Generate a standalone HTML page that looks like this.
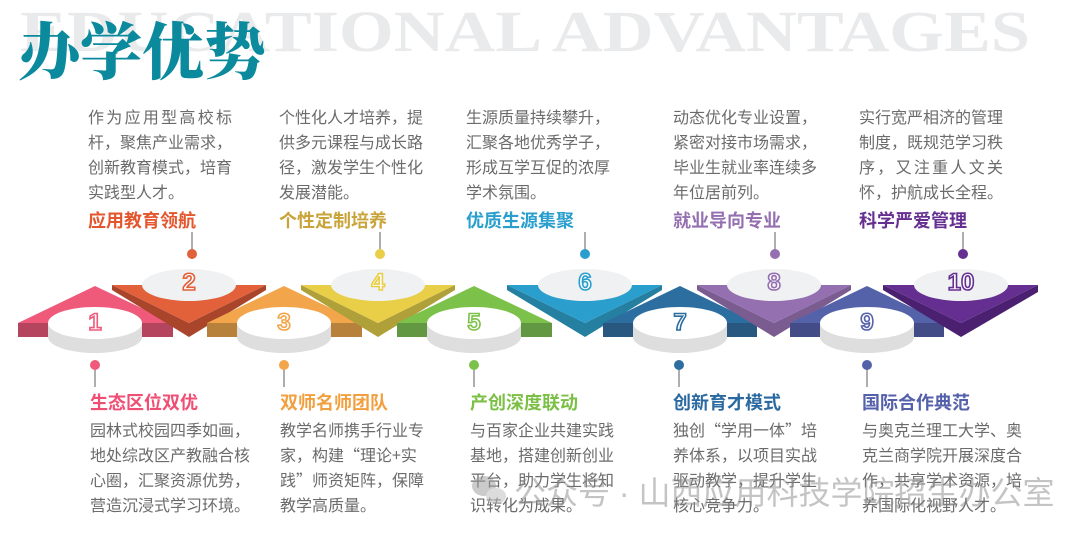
<!DOCTYPE html>
<html><head><meta charset="utf-8"><style>
html,body{margin:0;padding:0;background:#fff;}
svg{display:block;}
.b{font-family:"Noto Sans CJK SC","Liberation Sans",sans-serif;font-size:16px;fill:#6b6b6b;}
.h{font-family:"Noto Sans CJK SC","Liberation Sans",sans-serif;font-size:18px;font-weight:bold;}
.n{font-family:"Liberation Sans",sans-serif;font-size:24px;font-weight:bold;fill:#fff;stroke-width:1.6;text-anchor:middle;}
</style></head><body>
<svg width="1080" height="537" viewBox="0 0 1080 537" xmlns="http://www.w3.org/2000/svg">
<text x="20" y="51" textLength="1010" lengthAdjust="spacingAndGlyphs" font-family="Liberation Serif,serif" font-weight="bold" font-size="58" fill="#e9eaec">EDUCATIONAL ADVANTAGES</text>
<text x="18" y="74" font-family="Noto Serif CJK SC,serif" font-weight="900" font-size="62" fill="#0a8a9c">办学优势</text>

<rect x="18" y="323" width="155" height="14" fill="#b5445f"/>
<polygon points="18,323 95,286 173,323" fill="#ef5a7a"/>
<polygon points="112,285 189,323 266,285 266,290 189,337 112,290" fill="#a8452b"/>
<polygon points="112,285 266,285 189,323" fill="#e2603a"/>
<rect x="207" y="323" width="155" height="14" fill="#b7803b"/>
<polygon points="207,323 284,286 362,323" fill="#f2a54a"/>
<polygon points="301,285 378,323 455,285 455,290 378,337 301,290" fill="#b0a03a"/>
<polygon points="301,285 455,285 378,323" fill="#e8cf47"/>
<rect x="397" y="323" width="155" height="14" fill="#619841"/>
<polygon points="397,323 474,286 552,323" fill="#7cc24a"/>
<polygon points="507,285 585,323 662,285 662,290 585,337 507,290" fill="#257fa0"/>
<polygon points="507,285 662,285 585,323" fill="#2a9fcd"/>
<rect x="603" y="323" width="154" height="14" fill="#285880"/>
<polygon points="603,323 680,286 757,323" fill="#2c6ea0"/>
<polygon points="697,285 774,323 851,285 851,290 774,337 697,290" fill="#7a5c90"/>
<polygon points="697,285 851,285 774,323" fill="#9470b0"/>
<rect x="790" y="323" width="154" height="14" fill="#444c88"/>
<polygon points="790,323 867,286 944,323" fill="#5462aa"/>
<polygon points="883,285 961,323 1038,285 1038,292 961,337 883,290" fill="#4b2070"/>
<polygon points="883,285 1038,285 961,323" fill="#652f91"/>

<g fill="#dedede">
<ellipse cx="95" cy="337" rx="47" ry="16"/><rect x="48" y="323" width="94" height="14"/>
<ellipse cx="284" cy="337" rx="47" ry="16"/><rect x="237" y="323" width="94" height="14"/>
<ellipse cx="474" cy="337" rx="47" ry="16"/><rect x="427" y="323" width="94" height="14"/>
<ellipse cx="680" cy="337" rx="47" ry="16"/><rect x="633" y="323" width="94" height="14"/>
<ellipse cx="867" cy="337" rx="47" ry="16"/><rect x="820" y="323" width="94" height="14"/>
</g>
<g fill="#ffffff">
<ellipse cx="95" cy="323" rx="47" ry="16"/>
<ellipse cx="284" cy="323" rx="47" ry="16"/>
<ellipse cx="474" cy="323" rx="47" ry="16"/>
<ellipse cx="680" cy="323" rx="47" ry="16"/>
<ellipse cx="867" cy="323" rx="47" ry="16"/>
</g>
<g fill="#f0f1f2">
<ellipse cx="189" cy="285" rx="47" ry="16"/>
<ellipse cx="378" cy="285" rx="47" ry="16"/>
<ellipse cx="585" cy="285" rx="47" ry="16"/>
<ellipse cx="774" cy="285" rx="47" ry="16"/>
<ellipse cx="961" cy="285" rx="47" ry="16"/>
</g>
<text class="n" x="95" y="330" stroke="#ef5a7a">1</text>
<text class="n" x="189" y="290" stroke="#e2603a">2</text>
<text class="n" x="284" y="330" stroke="#f2a54a">3</text>
<text class="n" x="378" y="290" stroke="#e8cf47">4</text>
<text class="n" x="474" y="330" stroke="#7cc24a">5</text>
<text class="n" x="585" y="290" stroke="#2a9fcd">6</text>
<text class="n" x="680" y="330" stroke="#2c6ea0">7</text>
<text class="n" x="774" y="290" stroke="#9470b0">8</text>
<text class="n" x="867" y="330" stroke="#5462aa">9</text>
<text class="n" x="961" y="290" stroke="#652f91">10</text>

<g stroke="#777" stroke-width="1.2">
<line x1="192" y1="232" x2="192" y2="252"/><line x1="380" y1="232" x2="380" y2="252"/>
<line x1="585" y1="232" x2="585" y2="252"/><line x1="775" y1="232" x2="775" y2="252"/>
<line x1="963" y1="232" x2="963" y2="252"/>
<line x1="95" y1="366" x2="95" y2="387"/><line x1="284" y1="366" x2="284" y2="387"/>
<line x1="474" y1="366" x2="474" y2="387"/><line x1="679" y1="366" x2="679" y2="387"/>
<line x1="867" y1="366" x2="867" y2="387"/>
</g>
<circle cx="192" cy="254" r="5" fill="#e2603a"/><circle cx="380" cy="254" r="5" fill="#e8cf47"/>
<circle cx="585" cy="254" r="5" fill="#2a9fcd"/><circle cx="775" cy="254" r="5" fill="#9470b0"/>
<circle cx="963" cy="254" r="5" fill="#652f91"/>
<circle cx="95" cy="365" r="5" fill="#ef5a7a"/><circle cx="284" cy="365" r="5" fill="#f2a54a"/>
<circle cx="474" cy="365" r="5" fill="#7cc24a"/><circle cx="679" cy="365" r="5" fill="#2c6ea0"/>
<circle cx="867" cy="365" r="5" fill="#5462aa"/>

<text class="b" x="88" y="123" textLength="144">作为应用型高校标</text>
<text class="b" x="88" y="148">杆，聚焦产业需求，</text>
<text class="b" x="88" y="173">创新教育模式，培育</text>
<text class="b" x="88" y="198">实践型人才。</text>
<text class="h" x="88" y="227" fill="#e4572e">应用教育领航</text>

<text class="b" x="279" y="123">个性化人才培养，提</text>
<text class="b" x="279" y="148">供多元课程与成长路</text>
<text class="b" x="279" y="173">径，激发学生个性化</text>
<text class="b" x="279" y="198">发展潜能。</text>
<text class="h" x="279" y="227" fill="#c9a43a">个性定制培养</text>

<text class="b" x="466" y="123">生源质量持续攀升，</text>
<text class="b" x="466" y="148">汇聚各地优秀学子，</text>
<text class="b" x="466" y="173">形成互学互促的浓厚</text>
<text class="b" x="466" y="198">学术氛围。</text>
<text class="h" x="466" y="227" fill="#2a9fcd">优质生源集聚</text>

<text class="b" x="673" y="123">动态优化专业设置，</text>
<text class="b" x="673" y="148">紧密对接市场需求，</text>
<text class="b" x="673" y="173">毕业生就业率连续多</text>
<text class="b" x="673" y="198">年位居前列。</text>
<text class="h" x="673" y="227" fill="#9470b0">就业导向专业</text>

<text class="b" x="859" y="123">实行宽严相济的管理</text>
<text class="b" x="859" y="148">制度，既规范学习秩</text>
<text class="b" x="859" y="173" textLength="144">序，又注重人文关</text>
<text class="b" x="859" y="198">怀，护航成长全程。</text>
<text class="h" x="859" y="227" fill="#652f91">科学严爱管理</text>

<text class="h" x="90" y="409" fill="#ef4f74">生态区位双优</text>
<text class="b" x="90" y="436">园林式校园四季如画，</text>
<text class="b" x="90" y="461">地处综改区产教融合核</text>
<text class="b" x="90" y="486">心圈，汇聚资源优势，</text>
<text class="b" x="90" y="511">营造沉浸式学习环境。</text>

<text class="h" x="280" y="409" fill="#f2a03f">双师名师团队</text>
<text class="b" x="280" y="436">教学名师携手行业专</text>
<text class="b" x="280" y="461">家，构建“理论+实</text>
<text class="b" x="280" y="486">践”师资矩阵，保障</text>
<text class="b" x="280" y="511">教学高质量。</text>

<text class="h" x="470" y="409" fill="#7cbf45">产创深度联动</text>
<text class="b" x="470" y="436">与百家企业共建实践</text>
<text class="b" x="470" y="461">基地，搭建创新创业</text>
<text class="b" x="470" y="486">平台，助力学生将知</text>
<text class="b" x="470" y="511">识转化为成果。</text>

<text class="h" x="673" y="409" fill="#2b6aa0">创新育才模式</text>
<text class="b" x="673" y="436">独创“学用一体”培</text>
<text class="b" x="673" y="461">养体系，以项目实战</text>
<text class="b" x="673" y="486">驱动教学，提升学生</text>
<text class="b" x="673" y="511">核心竞争力。</text>

<text class="h" x="862" y="409" fill="#5560ab">国际合作典范</text>
<text class="b" x="862" y="436">与奥克兰理工大学、奥</text>
<text class="b" x="862" y="461">克兰商学院开展深度合</text>
<text class="b" x="862" y="486">作，共享学术资源，培</text>
<text class="b" x="862" y="511">养国际化视野人才。</text>

<g opacity="0.5">
<ellipse cx="484" cy="486" rx="12" ry="10" fill="#999"/>
<ellipse cx="496" cy="496" rx="10" ry="8" fill="#bbb"/>
<text x="514" y="504" font-family="Liberation Sans,Noto Sans CJK SC,sans-serif" font-size="32" fill="#8a8a8a">公众号 · 山西应用科技学院招生办公室</text>
</g>
</svg>
</body></html>
